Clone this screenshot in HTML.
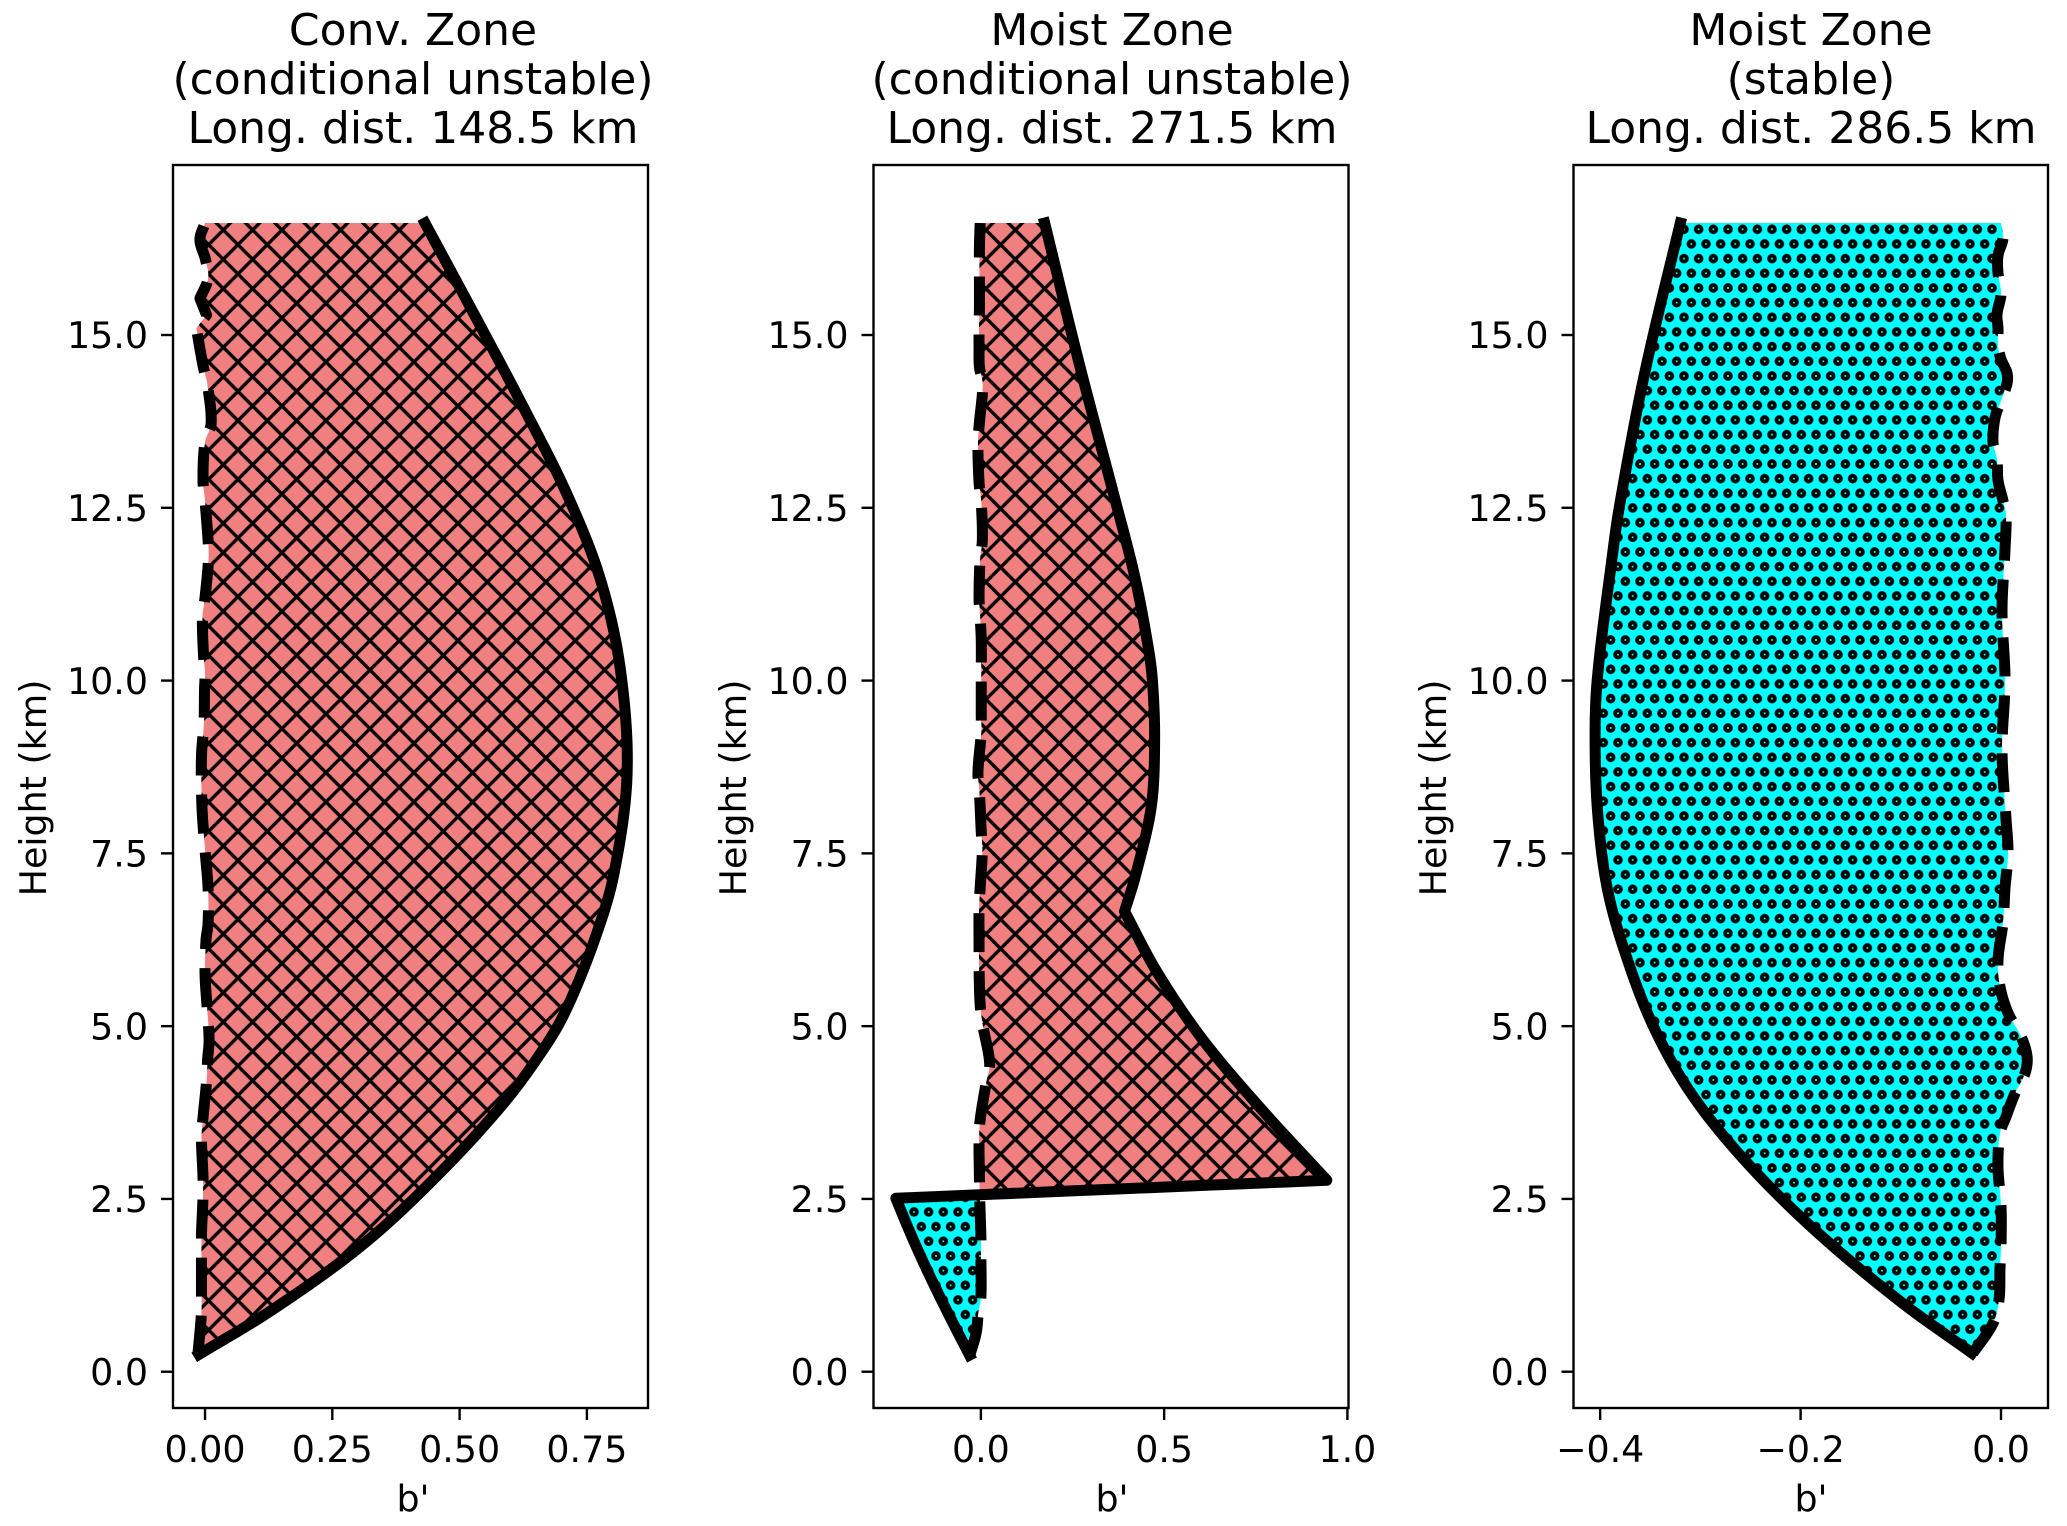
<!DOCTYPE html>
<html lang="en">
<head>
<meta charset="utf-8">
<title>Buoyancy profiles by zone</title>
<style>
html,body{margin:0;padding:0;background:#fff;width:2067px;height:1526px;overflow:hidden}
svg{display:block}
text{font-family:"DejaVu Sans","Liberation Sans",sans-serif;fill:#000}
.title{font-size:44px;text-anchor:middle}
.lab{font-size:36.4px;text-anchor:middle}
</style>
</head>
<body>
<svg id="chart" xmlns="http://www.w3.org/2000/svg" width="2067" height="1526" viewBox="0 0 2067 1526">
  <defs>
    <pattern id="hatch-cross" patternUnits="userSpaceOnUse" width="29.333" height="29.333" patternTransform="translate(223.3 230)">
      <rect width="29.333" height="29.333" fill="#f08080"/>
      <path d="M-3 -3L32.333 32.333M-3 32.333L32.333 -3" stroke="#000" stroke-width="3.4" fill="none"/>
    </pattern>
    <pattern id="hatch-dots" patternUnits="userSpaceOnUse" width="14.667" height="29.333" patternTransform="translate(1698.67 229.3)">
      <rect width="14.667" height="29.333" fill="#00ffff"/>
      <g fill="none" stroke="#000" stroke-width="3.8">
        <circle cx="0" cy="0" r="2.9"/><circle cx="14.667" cy="0" r="2.9"/>
        <circle cx="7.333" cy="14.667" r="2.9"/>
        <circle cx="0" cy="29.333" r="2.9"/><circle cx="14.667" cy="29.333" r="2.9"/>
      </g>
    </pattern>
  </defs>

  <g id="p0">
    <text class="title" x="413" y="45">Conv. Zone</text>
    <text class="title" x="413" y="94">(conditional unstable)</text>
    <text class="title" x="413" y="143">Long. dist. 148.5 km</text>
    <text class="lab" x="413" y="1511.5">b'</text>
    <text class="lab" transform="translate(46 788) rotate(-90)">Height (km)</text>
  </g>
  <g id="p1">
    <text class="title" x="1112" y="45">Moist Zone</text>
    <text class="title" x="1112" y="94">(conditional unstable)</text>
    <text class="title" x="1112" y="143">Long. dist. 271.5 km</text>
    <text class="lab" x="1112" y="1511.5">b'</text>
    <text class="lab" transform="translate(746 788) rotate(-90)">Height (km)</text>
  </g>
  <g id="p2">
    <text class="title" x="1811" y="45">Moist Zone</text>
    <text class="title" x="1811" y="94">(stable)</text>
    <text class="title" x="1811" y="143">Long. dist. 286.5 km</text>
    <text class="lab" x="1811" y="1511.5">b'</text>
    <text class="lab" transform="translate(1446 788) rotate(-90)">Height (km)</text>
  </g>
</svg>
<script>
// ---- chart data (heights in km, b' values) ----
const yTicks = [0, 2.5, 5, 7.5, 10, 12.5, 15];
const yTickLabels = ["0.0", "2.5", "5.0", "7.5", "10.0", "12.5", "15.0"];
const yLimits = [-0.525, 17.46];

const xLimitsA = [-0.0629, 0.870];
const xTicksA = [0, 0.25, 0.5, 0.75];
const xTickLabelsA = ["0.00", "0.25", "0.50", "0.75"];
const solidHeightsA = [0.25,0.89,1.81,2.77,3.88,4.75,5.28,6.25,7.2,8.66,10.2,11.5,12.71,13.96,15.17,16.62];
const solidA = [-0.012,0.131,0.305,0.447,0.586,0.672,0.712,0.765,0.803,0.829,0.815,0.775,0.71,0.625,0.538,0.432];
const dashedHeightsA = [0.25,0.85,1.14,1.69,1.98,2.53,2.82,3.38,3.67,4.2,4.51,4.8,5.28,5.77,6.25,6.49,7,7.55,8.17,8.9,9.4,9.87,10.1,10.37,10.93,11.2,11.77,12.03,12.6,12.9,13.45,13.72,14.27,14.56,15.1,15.29,15.53,15.82,16.09,16.38,16.62];
const dashedA = [-0.014,-0.007,-0.007,-0.007,-0.007,-0.004,-0.004,-0.007,-0.004,0.003,0.005,0.008,0.004,0,0.002,0.006,0.006,0,-0.006,-0.007,-0.002,-0.001,0,-0.003,-0.005,0,0.007,0.006,0,-0.004,0,0.012,0.005,-0.004,-0.017,0.003,-0.01,0.006,0.001,-0.01,0];

const xLimitsB = [-0.293, 1.003];
const xTicksB = [0, 0.5, 1];
const xTickLabelsB = ["0.0", "0.5", "1.0"];
const solidHeightsB = [0.24,0.85,1.47,2,2.51,2.77,3.83,4.8,5.77,6.66,7.2,8.18,9.14,10,10.5,11.5,12.64,14.57,16.62];
const solidB = [-0.031,-0.09,-0.147,-0.192,-0.232,0.944,0.76,0.606,0.482,0.392,0.423,0.465,0.474,0.468,0.456,0.42,0.365,0.269,0.174];
const dashedHeightsB = [0.24,0.56,0.85,1.08,1.69,1.95,2.48,2.8,3.35,3.64,4.2,4.46,5.02,5.31,5.86,6.15,6.71,7,7.55,7.81,8.39,8.68,9.24,9.5,10.05,10.59,10.92,11.19,11.77,12.03,12.58,12.87,13.44,13.73,14.28,14.54,14.8,15.12,15.39,15.97,16.26,16.62];
const dashedB = [-0.03,-0.013,-0.007,0,0,0,-0.003,-0.004,-0.005,-0.002,0.015,0.024,0.005,-0.002,-0.005,-0.005,-0.005,-0.002,0.004,0.001,-0.004,-0.008,0.001,0.001,0.001,0.001,-0.002,-0.005,-0.002,0.004,0.001,-0.005,-0.008,-0.004,0.005,-0.004,-0.005,-0.005,-0.004,-0.004,-0.004,-0.002];

const xLimitsC = [-0.4266, 0.0469];
const xTicksC = [-0.4, -0.2, 0];
const xTickLabelsC = ["\u22120.4", "\u22120.2", "0.0"];
const solidHeightsC = [0.27,1,2,3,4,5,6.1,7,8,9,10,11.9,12.5,14,15,16.62];
const solidC = [-0.029,-0.099,-0.182,-0.252,-0.308,-0.347,-0.376,-0.393,-0.402,-0.405,-0.403,-0.387,-0.381,-0.362,-0.347,-0.32];
const dashedHeightsC = [0.27,0.7,1.04,1.5,1.8,2.4,2.96,3.45,3.69,4.03,4.32,4.56,4.85,5.19,5.57,5.96,6.5,7,7.5,8,9,10,11,11.9,12.4,12.6,12.9,13.2,13.45,13.8,14.05,14.3,14.45,14.65,14.85,15.1,15.3,15.6,15.9,16.15,16.4,16.62];
const dashedC = [-0.028,-0.008,-0.002,-0.001,0,0,-0.003,-0.001,0.005,0.014,0.024,0.026,0.02,0.007,-0.001,-0.003,0.002,0.004,0.007,0.005,0.001,0.004,0.001,0.004,0.005,0.002,-0.003,-0.004,-0.008,-0.006,0,0.006,0.006,0,-0.003,-0.003,-0.004,0,-0.003,-0.003,0.002,0];

const panelSeries = [
  {id:"p0", box:[173,648],      xlim:xLimitsA, ticks:xTicksA, labels:xTickLabelsA, sh:solidHeightsA, s:solidA, dh:dashedHeightsA, d:dashedA},
  {id:"p1", box:[873.5,1348.5], xlim:xLimitsB, ticks:xTicksB, labels:xTickLabelsB, sh:solidHeightsB, s:solidB, dh:dashedHeightsB, d:dashedB},
  {id:"p2", box:[1573.5,2048],  xlim:xLimitsC, ticks:xTicksC, labels:xTickLabelsC, sh:solidHeightsC, s:solidC, dh:dashedHeightsC, d:dashedC}
];

const NS = "http://www.w3.org/2000/svg";
const TOP = 165, BOTTOM = 1408;
const CORNER_COS = Math.cos(40 * Math.PI / 180);

function yScale(v){
  return BOTTOM - (v - yLimits[0]) / (yLimits[1] - yLimits[0]) * (BOTTOM - TOP);
}
function makeXScale(p){
  return function(v){
    return p.box[0] + (v - p.xlim[0]) / (p.xlim[1] - p.xlim[0]) * (p.box[1] - p.box[0]);
  };
}
function unit(a, b){
  const dx = b[0] - a[0], dy = b[1] - a[1];
  const l = Math.hypot(dx, dy) || 1;
  return [dx / l, dy / l];
}
// Smooth a read profile into a dense polyline; sharp turns stay as corners.
function denseCurve(pts){
  const n = pts.length;
  const out = [pts[0]];
  const tangents = pts.map(function(q, i){
    if (i === 0) return {a: unit(pts[0], pts[1]), b: unit(pts[0], pts[1])};
    if (i === n - 1) return {a: unit(pts[n-2], pts[n-1]), b: unit(pts[n-2], pts[n-1])};
    const u = unit(pts[i-1], q), v = unit(q, pts[i+1]);
    if (u[0]*v[0] + u[1]*v[1] < CORNER_COS) return {a: u, b: v};
    const t = unit(pts[i-1], pts[i+1]);
    return {a: t, b: t};
  });
  for (let i = 0; i < n - 1; i++){
    const p0 = pts[i], p3 = pts[i+1];
    const len = Math.hypot(p3[0]-p0[0], p3[1]-p0[1]) / 3;
    const p1 = [p0[0] + tangents[i].b[0]*len, p0[1] + tangents[i].b[1]*len];
    const p2 = [p3[0] - tangents[i+1].a[0]*len, p3[1] - tangents[i+1].a[1]*len];
    for (let k = 1; k <= 10; k++){
      const t = k / 10, m = 1 - t;
      out.push([
        m*m*m*p0[0] + 3*m*m*t*p1[0] + 3*m*t*t*p2[0] + t*t*t*p3[0],
        m*m*m*p0[1] + 3*m*m*t*p1[1] + 3*m*t*t*p2[1] + t*t*t*p3[1]
      ]);
    }
  }
  return out;
}
function pathFrom(points, close){
  return "M" + points.map(function(q){ return q[0].toFixed(2) + " " + q[1].toFixed(2); }).join("L") + (close ? "Z" : "");
}
function xAtY(curve, y){
  if (y >= curve[0][1]) return curve[0][0];
  for (let i = 1; i < curve.length; i++){
    if (curve[i][1] <= y){
      const a = curve[i-1], b = curve[i];
      const t = (a[1] - y) / ((a[1] - b[1]) || 1);
      return a[0] + t * (b[0] - a[0]);
    }
  }
  return curve[curve.length-1][0];
}
// Split the area between the curves where solid crosses dashed.
function splitRegions(solid, dashed){
  const regions = [];
  let cur = null, prev = null;
  solid.forEach(function(q){
    const diff = q[0] - xAtY(dashed, q[1]);
    const sign = diff >= 0 ? 1 : -1;
    if (cur && cur.sign !== sign){
      const t = prev.diff / (prev.diff - diff);
      const c = [prev.q[0] + t*(q[0]-prev.q[0]), prev.q[1] + t*(q[1]-prev.q[1])];
      cur.pts.push(c);
      regions.push(cur);
      cur = {sign: sign, pts: [c]};
    }
    if (!cur) cur = {sign: sign, pts: []};
    cur.pts.push(q);
    prev = {q: q, diff: diff};
  });
  regions.push(cur);
  return regions;
}
function regionPolygon(r, dashed){
  const startY = r.pts[0][1], endY = r.pts[r.pts.length-1][1];
  const back = dashed.filter(function(q){ return q[1] <= startY && q[1] >= endY; }).reverse();
  return r.pts.concat([[xAtY(dashed, endY), endY]], back, [[xAtY(dashed, startY), startY]]);
}

panelSeries.forEach(function(p){
  const g = document.getElementById(p.id);
  const xs = makeXScale(p);
  const solidCurve = denseCurve(p.sh.map(function(v, i){ return [xs(p.s[i]), yScale(v)]; }));
  const dashedCurve = denseCurve(p.dh.map(function(v, i){ return [xs(p.d[i]), yScale(v)]; }));

  splitRegions(solidCurve, dashedCurve).forEach(function(r){
    const area = document.createElementNS(NS, "path");
    area.setAttribute("d", pathFrom(regionPolygon(r, dashedCurve), true));
    area.setAttribute("fill", r.sign > 0 ? "url(#hatch-cross)" : "url(#hatch-dots)");
    
    
    g.appendChild(area);
  });

  const dashed = document.createElementNS(NS, "path");
  dashed.setAttribute("d", pathFrom(dashedCurve, false));
  dashed.setAttribute("fill", "none");
  dashed.setAttribute("stroke", "#000");
  dashed.setAttribute("stroke-width", "11");
  dashed.setAttribute("stroke-dasharray", "39 19");
  dashed.setAttribute("stroke-linejoin", "round");
  
  
  g.appendChild(dashed);

  const solid = document.createElementNS(NS, "path");
  solid.setAttribute("d", pathFrom(solidCurve, false));
  solid.setAttribute("fill", "none");
  solid.setAttribute("stroke", "#000");
  solid.setAttribute("stroke-width", "11");
  solid.setAttribute("stroke-linecap", "square");
  solid.setAttribute("stroke-linejoin", "round");
  
  
  g.appendChild(solid);

  const frame = document.createElementNS(NS, "rect");
  frame.setAttribute("x", p.box[0]);
  frame.setAttribute("y", TOP);
  frame.setAttribute("width", p.box[1] - p.box[0]);
  frame.setAttribute("height", BOTTOM - TOP);
  frame.setAttribute("fill", "none");
  frame.setAttribute("stroke", "#000");
  frame.setAttribute("stroke-width", "2.4");
  
  
  g.appendChild(frame);

  yTicks.forEach(function(v, i){
    const y = yScale(v);
    const tick = document.createElementNS(NS, "line");
    tick.setAttribute("x1", p.box[0] - 12);
    tick.setAttribute("x2", p.box[0]);
    tick.setAttribute("y1", y);
    tick.setAttribute("y2", y);
    tick.setAttribute("stroke", "#000");
    tick.setAttribute("stroke-width", "2.4");
    
    
    g.appendChild(tick);
    const label = document.createElementNS(NS, "text");
    label.setAttribute("x", p.box[0] - 25);
    label.setAttribute("y", y + 13.2);
    label.setAttribute("text-anchor", "end");
    label.setAttribute("font-size", "36.4");
    
    
    label.textContent = yTickLabels[i];
    g.appendChild(label);
  });

  p.ticks.forEach(function(v, i){
    const x = xs(v);
    const tick = document.createElementNS(NS, "line");
    tick.setAttribute("x1", x);
    tick.setAttribute("x2", x);
    tick.setAttribute("y1", BOTTOM);
    tick.setAttribute("y2", BOTTOM + 12);
    tick.setAttribute("stroke", "#000");
    tick.setAttribute("stroke-width", "2.4");
    
    
    g.appendChild(tick);
    const label = document.createElementNS(NS, "text");
    label.setAttribute("x", x);
    label.setAttribute("y", 1462);
    label.setAttribute("text-anchor", "middle");
    label.setAttribute("font-size", "36.4");
    
    
    label.textContent = p.labels[i];
    g.appendChild(label);
  });
});
</script>
</body>
</html>
